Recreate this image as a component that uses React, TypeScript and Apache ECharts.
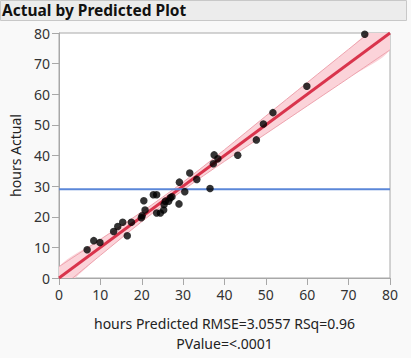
import React, { useEffect, useRef } from "react";
import * as echarts from "echarts";

const predicted = [6.8, 8.4, 9.9, 13.2, 14.2, 15.4, 16.5, 17.5, 19.9, 20.1, 20.5, 20.8, 22.8, 23.6, 23.6, 24.5, 25.3, 25.4, 25.7, 26.5, 26.9, 27.3, 29.1, 29.0, 30.4, 31.6, 33.3, 36.5, 37.5, 37.3, 38.4, 43.2, 47.7, 49.4, 51.7, 59.9, 73.9];
const actual = [9.2, 12.2, 11.6, 15.2, 16.8, 18.2, 13.8, 18.2, 19.7, 20.3, 25.2, 22.2, 27.2, 27.2, 21.2, 21.2, 22.2, 24.0, 25.1, 25.1, 26.2, 26.5, 31.3, 24.2, 28.2, 34.3, 32.2, 29.2, 40.2, 37.3, 38.9, 40.1, 45.1, 50.3, 54.0, 62.6, 79.6];
const meanActual = 29;
const fitX = [0, 80];
const fitY = [0, 80];
const bandX = [0, 10, 20, 30, 40, 50, 60, 70, 80];
const bandHalf = [3.7, 2.6, 1.6, 1.3, 1.9, 2.9, 3.8, 4.7, 5.5];
const ticks = [0, 10, 20, 30, 40, 50, 60, 70, 80];
const xName = "hours Predicted RMSE=3.0557 RSq=0.96";
const xName2 = "PValue=<.0001";
const yName = "hours Actual";
const title = "Actual by Predicted Plot";

export default function App() {
  const ref = useRef<HTMLDivElement>(null);
  useEffect(() => {
    document.body.style.margin = "0";
    const chart = echarts.init(ref.current!, undefined, { renderer: "svg" });
    const font = "'Noto Sans', sans-serif";
    const points = predicted.map((p, i) => [p, actual[i]]);
    chart.setOption({
      animation: false,
      backgroundColor: "#f9f9f9",
      graphic: [
        { type: "rect", left: 0, top: 0, shape: { width: 406, height: 20 }, style: { fill: "#ececec", stroke: "#c8c8c8", lineWidth: 1 }, z: -1 },
        { type: "text", x: 2, y: 10, style: { text: title, font: `bold 15.5px ${font}`, fill: "#111", verticalAlign: "middle", align: "left" } },
      ],
      grid: { left: 57, top: 33, width: 333, height: 250, show: true, backgroundColor: "#fff", borderColor: "#a8a8a8", borderWidth: 1 },
      xAxis: {
        type: "value", min: 0, max: 80, interval: 10,
        axisLine: { show: true, onZero: false, lineStyle: { color: "#a8a8a8" } },
        axisTick: { show: true, length: 7, lineStyle: { color: "#a8a8a8" } },
        splitLine: { show: false },
        axisLabel: { color: "#333", fontSize: 14, fontFamily: font, margin: 9, formatter: (v: number) => (ticks.includes(v) ? String(v) : "") },
        name: xName + "\n" + xName2, nameLocation: "middle", nameGap: 35,
        nameTextStyle: { color: "#222", fontSize: 14, fontFamily: font, lineHeight: 20 },
      },
      yAxis: {
        type: "value", min: 0, max: 80, interval: 10,
        axisLine: { show: true, onZero: false, lineStyle: { color: "#a8a8a8" } },
        axisTick: { show: true, length: 7, lineStyle: { color: "#a8a8a8" } },
        splitLine: { show: false },
        axisLabel: { color: "#333", fontSize: 14, fontFamily: font, margin: 9 },
        name: yName, nameLocation: "middle", nameGap: 37,
        nameTextStyle: { color: "#222", fontSize: 14, fontFamily: font },
      },
      series: [
        {
          type: "custom",
          clip: true,
          data: [[0, 0]],
          z: 1,
          renderItem: (params: any, api: any) => {
            const up = bandX.map((x, i) => api.coord([x, x + bandHalf[i]]));
            const lo = bandX.map((x, i) => api.coord([x, x - bandHalf[i]]));
            return {
              type: "group",
              children: [
                { type: "polygon", shape: { points: up.concat(lo.slice().reverse()), smooth: 0.3 }, style: { fill: "#fbd3d9", stroke: "none" } },
                { type: "polyline", shape: { points: up, smooth: 0.3 }, style: { stroke: "#eea3ae", lineWidth: 1, fill: "none" } },
                { type: "polyline", shape: { points: lo, smooth: 0.3 }, style: { stroke: "#eea3ae", lineWidth: 1, fill: "none" } },
              ],
            };
          },
        },
        {
          type: "line", data: fitX.map((x, i) => [x, fitY[i]]), symbol: "none", z: 2,
          lineStyle: { color: "#d9344c", width: 2.8 },
        },
        {
          type: "line", data: [[0, meanActual], [80, meanActual]], symbol: "none", z: 2,
          lineStyle: { color: "#5b87d8", width: 2 },
        },
        {
          type: "scatter", data: points, symbol: "circle", symbolSize: 7.5, z: 3,
          itemStyle: { color: "#000" },
        },
      ],
    });
    return () => chart.dispose();
  }, []);
  return <div ref={ref} style={{ width: 411, height: 358, position: "absolute", left: 0, top: 0 }} />;
}
